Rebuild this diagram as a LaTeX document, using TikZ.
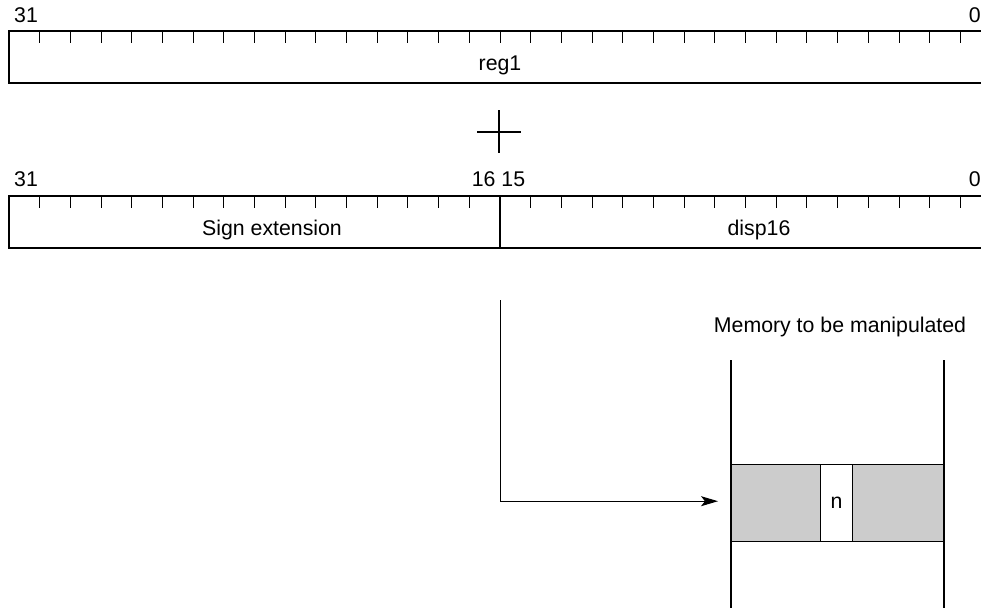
\documentclass[tikz,border=0pt]{standalone}
\usepackage{fontspec}
\setmainfont{Liberation Sans}
\usetikzlibrary{arrows.meta}
\definecolor{cellgray}{HTML}{CCCCCC}
\begin{document}
\begin{tikzpicture}[x=1pt,y=-1pt,
  lbl/.style={inner sep=0pt, font=\fontsize{21.3}{25}\selectfont},
  regbox/.style={line width=2pt},
  tick/.style={line width=0.9pt},
  memline/.style={line width=2pt},
  thinline/.style={line width=1pt},
  conn/.style={line width=1pt, -{Stealth[length=17pt,width=10pt,inset=4pt]}}]
\useasboundingbox (0,0) rectangle (981,608);
\clip (0,0) rectangle (981,608);
\def\bw{30.6875}
% register 1
\draw[regbox] (9,31) rectangle (991,83);
\foreach \i in {1,...,31} \draw[tick] ({9+\i*\bw},31) -- ++(0,12);
\node[lbl, anchor=base west] (r1hi) at (14,22) {31};
\node[lbl, anchor=base east] (r1lo) at (981,22) {0};
\node[lbl, anchor=base] (reg1) at (500,70) {reg1};
% plus
\draw[line width=2pt] (477,131.5) -- (521,131.5) (499,110) -- (499,153);
% register 2
\draw[regbox] (9,196) rectangle (991,248);
\foreach \i in {1,...,31} \draw[tick] ({9+\i*\bw},196) -- ++(0,12);
\draw[line width=1.2pt] (500,196) -- (500,248);
\node[lbl, anchor=base west] (r2hi) at (14,186) {31};
\node[lbl, anchor=base] (r2mid) at (498.5,186) {16 15};
\node[lbl, anchor=base east] (r2lo) at (981,186) {0};
\node[lbl, anchor=base] (sext) at (272,235) {Sign extension};
\node[lbl, anchor=base] (disp) at (759,235) {disp16};
% memory
\node[lbl, anchor=base] (memtitle) at (840,332) {Memory to be manipulated};
\node[fill=cellgray, inner sep=0pt, minimum width=89pt, minimum height=77pt, anchor=north west] (cellL) at (731,464) {};
\node[fill=cellgray, inner sep=0pt, minimum width=92pt, minimum height=77pt, anchor=north west] (cellR) at (852,464) {};
\draw[thinline] (cellL.north west) -- (cellR.north east);
\draw[thinline] (cellL.south west) -- (cellR.south east);
\node[lbl, draw, thinline, fill=white, minimum width=32pt, minimum height=77pt, anchor=north west] (nbox) at (820,464) {n};
\draw[memline] (731,360) -- (731,608);
\draw[memline] (944,360) -- (944,608);
% connector
\coordinate (dtop) at (500,300);
\draw[conn] (dtop) |- ([xshift=-13pt,yshift=1.5pt]cellL.west);
\end{tikzpicture}
\end{document}
